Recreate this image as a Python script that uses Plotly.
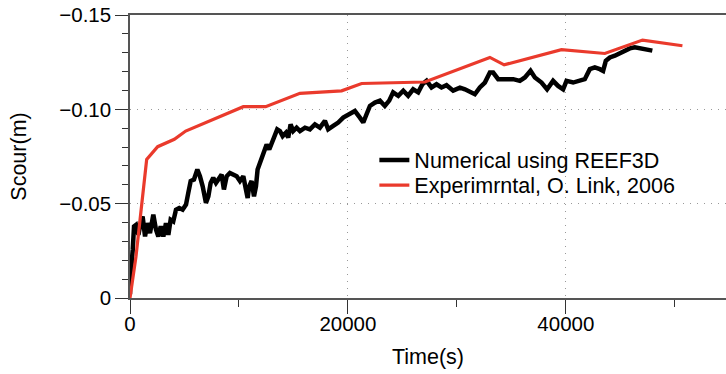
import plotly.graph_objects as go

# Numerical (REEF3D) series
x_num = [0, 9, 250, 370, 550, 770, 980, 1160, 1380, 1590, 1835, 2140, 2385, 2600, 2820, 3060, 3300, 3520, 3730, 3970,
         4220, 4520, 4830, 5140, 5350, 5570, 5870, 6180, 6420, 6670, 6970, 7190, 7400, 7640, 7890, 8130, 8410, 8620,
         8870, 9170, 9480, 9790, 10090, 10400, 10640, 10800, 10940, 11160, 11380, 11560, 11710, 11990, 12290, 12540,
         12780, 13000, 13300, 13510, 13760, 14010, 14310, 14520, 14740, 14980, 15290, 15600, 16060, 16510, 16970,
         17430, 17890, 18190, 18650, 19110, 19570, 20030, 20640, 21100, 21410, 21710, 22020, 22480, 22940, 23390,
         23790, 24150, 24620, 25080, 25530, 25990, 26450, 26840, 27220, 27670, 28130, 28590, 29050, 29660, 30280,
         30740, 31190, 31650, 32110, 32570, 33030, 33330, 33790, 34400, 35170, 35780, 36240, 36760, 37160, 37770,
         38280, 38830, 39290, 39750, 40060, 40670, 41280, 41740, 42200, 42660, 43120, 43420, 43670, 44040, 44500,
         44950, 45410, 45870, 46330, 46940, 47400, 47940]
y_num = [-0.002, -0.0078, -0.0255, -0.038, -0.0388, -0.0335, -0.0397, -0.0432, -0.0326, -0.0397, -0.0344, -0.0442,
         -0.0362, -0.0326, -0.038, -0.0326, -0.0397, -0.0335, -0.0415, -0.0406, -0.0468, -0.0477, -0.0468, -0.0495,
         -0.0557, -0.062, -0.0628, -0.0681, -0.0645, -0.0592, -0.0504, -0.0539, -0.061, -0.0637, -0.061, -0.0628,
         -0.0654, -0.0575, -0.0645, -0.0663, -0.0654, -0.0645, -0.062, -0.0645, -0.0575, -0.053, -0.0592, -0.062,
         -0.0539, -0.0592, -0.0681, -0.0725, -0.0787, -0.0814, -0.0787, -0.0823, -0.0858, -0.0894, -0.0885, -0.0858,
         -0.0876, -0.085, -0.092, -0.0885, -0.0903, -0.0885, -0.0903, -0.0894, -0.092, -0.0903, -0.0939, -0.0894,
         -0.0912, -0.093, -0.0956, -0.0974, -0.0991, -0.0956, -0.093, -0.0974, -0.1018, -0.1036, -0.1046, -0.1018,
         -0.1046, -0.109, -0.1072, -0.1099, -0.1072, -0.1106, -0.109, -0.1133, -0.1151, -0.1116, -0.1133, -0.1116,
         -0.1128, -0.1099, -0.1115, -0.1106, -0.109, -0.108, -0.1116, -0.1142, -0.1195, -0.1195, -0.116, -0.116,
         -0.116, -0.1151, -0.1169, -0.1204, -0.1169, -0.1142, -0.1106, -0.1151, -0.1124, -0.1106, -0.1151, -0.1142,
         -0.1151, -0.116, -0.1213, -0.1222, -0.1213, -0.1204, -0.1257, -0.1275, -0.1284, -0.1298, -0.1311, -0.1323,
         -0.1329, -0.132, -0.1316, -0.1311]

# Experimental (O. Link, 2006) series
x_exp = [0, 550, 1530, 2540, 4070, 5110, 10400, 12450, 15600, 19420, 21260, 27060, 33030, 34340, 39600, 43580,
         47040, 50700]
y_exp = [0, -0.022, -0.0734, -0.0802, -0.0841, -0.0885, -0.1014, -0.1014, -0.1085, -0.1098, -0.1137, -0.1145,
         -0.1275, -0.1236, -0.1316, -0.1296, -0.1367, -0.1337]

x_ticks = [0, 20000, 40000]
x_ticktext = ["0", "20000", "40000"]
y_ticks = [0, -0.05, -0.10, -0.15]
y_ticktext = ["0", "\u22120.05", "\u22120.10", "\u22120.15"]

FONT = "Liberation Sans, Arial, Helvetica, sans-serif"
AXC = "#555555"

fig = go.Figure()
fig.add_trace(go.Scatter(x=x_num, y=y_num, mode="lines", name="Numerical using REEF3D",
                         line=dict(color="black", width=4.5), legend="legend"))
fig.add_trace(go.Scatter(x=x_exp, y=y_exp, mode="lines", name="Experimrntal, O. Link, 2006",
                         line=dict(color="#ea3a2c", width=3.2), legend="legend2"))

leg_common = dict(xanchor="left", yanchor="middle", bgcolor="rgba(0,0,0,0)",
                  font=dict(size=21.5, family=FONT), itemwidth=30, borderwidth=0)

fig.update_layout(
    width=726, height=374,
    margin=dict(l=130, r=0, t=15, b=76),
    paper_bgcolor="white", plot_bgcolor="white",
    font=dict(family=FONT, size=20.5, color="black"),
    showlegend=True,
    legend=dict(x=0.41, y=0.4876, **leg_common),
    legend2=dict(x=0.41, y=0.399, **leg_common),
    xaxis=dict(range=[0, 54700], tickvals=x_ticks, ticktext=x_ticktext,
               ticks="outside", ticklen=14, tickwidth=1.2, tickcolor="#333",
               ticklabelstandoff=-7,
               showline=True, linecolor=AXC, linewidth=1.5, mirror=True,
               showgrid=True, gridcolor="#999999", gridwidth=1, griddash="1px,6px",
               zeroline=False,
               minor=dict(dtick=10000, tick0=0, ticks="outside", ticklen=7, tickcolor="#333", showgrid=False),
               title=dict(text="Time(s)", standoff=15, font=dict(size=21.5))),
    yaxis=dict(range=[0, -0.15], tickvals=y_ticks, ticktext=y_ticktext,
               ticks="outside", ticklen=13, tickwidth=1.2, tickcolor="#333",
               showline=True, linecolor=AXC, linewidth=1.5,
               showgrid=True, gridcolor="#999999", gridwidth=1, griddash="1px,6px",
               zeroline=False,
               minor=dict(dtick=0.01, tick0=0, ticks="outside", ticklen=6, tickcolor="#333", showgrid=False),
               title=dict(text="Scour(m)", standoff=27, font=dict(size=21.5))),
)

fig.write_html("out.html")
